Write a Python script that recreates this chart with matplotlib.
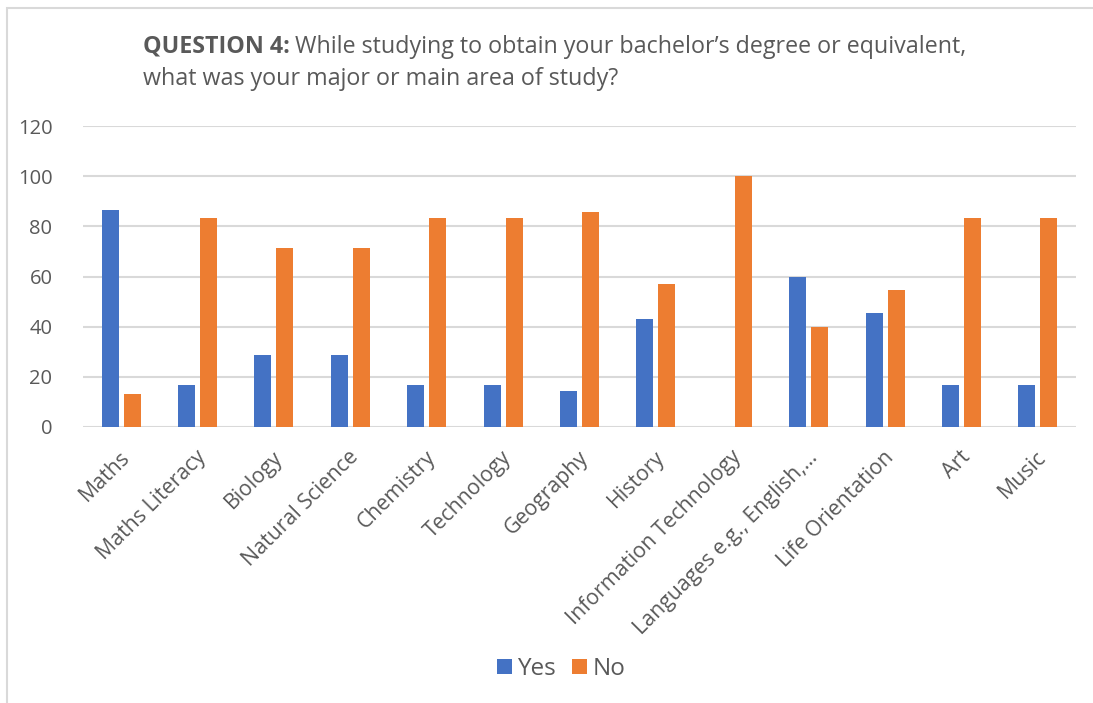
import matplotlib
matplotlib.use("Agg")
import matplotlib.pyplot as plt
import matplotlib.transforms as mtransforms
from matplotlib.patches import Rectangle
import numpy as np

categories = ["Maths", "Maths Literacy", "Biology", "Natural Science", "Chemistry",
              "Technology", "Geography", "History", "Information Technology",
              "Languages e.g., English,…", "Life Orientation", "Art", "Music"]
yes_values = [86.7, 16.7, 28.6, 28.6, 16.7, 16.7, 14.3, 42.9, 0.0, 60.0, 45.5, 16.7, 16.7]
no_values = [13.3, 83.3, 71.4, 71.4, 83.3, 83.3, 85.7, 57.1, 100.0, 40.0, 54.5, 83.3, 83.3]
y_ticks = [0, 20, 40, 60, 80, 100, 120]

BLUE = "#4472C4"
ORANGE = "#ED7D31"
TEXT = "#595959"
GRID = "#D9D9D9"
FONT = "Open Sans"

plt.rcParams["font.family"] = [FONT, "DejaVu Sans"]

W, H = 1093, 703
fig = plt.figure(figsize=(W / 100, H / 100), dpi=100)

# chart outline
fig.patches.append(Rectangle((7 / W, -0.01), 1.2, (H - 8) / H + 0.01,
                             transform=fig.transFigure, fill=False,
                             edgecolor=GRID, linewidth=1.5))

left, right, bottom, top = 83, 1076, 427, 126
ax = fig.add_axes([left / W, 1 - bottom / H, (right - left) / W, (bottom - top) / H])

x = np.arange(len(categories))
bw = 0.223
off = 0.144
ax.bar(x - off, yes_values, bw, color=BLUE, label="Yes", zorder=3)
ax.bar(x + off, no_values, bw, color=ORANGE, label="No", zorder=3)

ax.set_xlim(-0.5, len(categories) - 0.5)
ax.set_ylim(0, 120)
ax.set_yticks(y_ticks)
ax.yaxis.grid(True, color=GRID, linewidth=1.5, zorder=0)
ax.set_axisbelow(True)
for s in ax.spines.values():
    s.set_visible(False)
ax.tick_params(axis="both", length=0, colors=TEXT)
ax.tick_params(axis="y", pad=22)
ax.set_yticklabels([str(v) for v in y_ticks], color=TEXT, fontsize=14.5)

ax.set_xticks(x)
labels = ax.set_xticklabels(categories, rotation=45, ha="right", va="top",
                            rotation_mode="anchor", color=TEXT, fontsize=15.3)
shift = mtransforms.ScaledTranslation(-2 / 100, -15 / 100, fig.dpi_scale_trans)
for lab in labels:
    lab.set_transform(lab.get_transform() + shift)

# title
title_size = 16.75
fig.text(143 / W, 1 - 47 / H, "QUESTION 4:", fontsize=title_size, fontweight="bold",
         color=TEXT, va="center", ha="left")
fig.canvas.draw()
bb = fig.texts[0].get_window_extent()
fig.text((bb.x1 + 5) / W, 1 - 47 / H,
         "While studying to obtain your bachelor’s degree or equivalent,",
         fontsize=title_size, color=TEXT, va="center", ha="left")
fig.text(143 / W, 1 - 79 / H, "what was your major or main area of study?",
         fontsize=title_size, color=TEXT, va="center", ha="left")

leg = fig.legend(loc="center", bbox_to_anchor=(561 / W, 1 - 669 / H), ncol=2,
                 frameon=False, fontsize=17.5, handlelength=0.62, handleheight=0.62,
                 handletextpad=0.22, columnspacing=0.65, borderpad=0)
for t in leg.get_texts():
    t.set_color(TEXT)

fig.savefig("out.png", dpi=100)
